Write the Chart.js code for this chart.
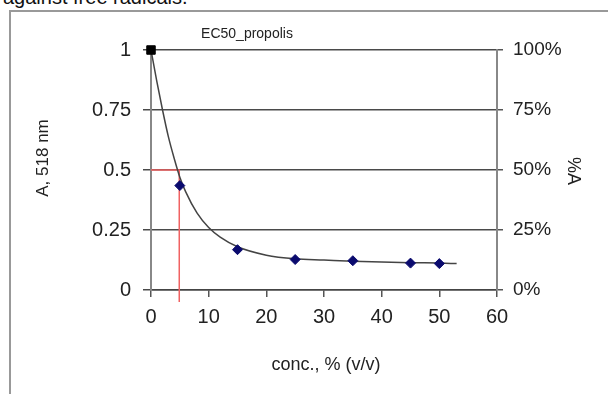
<!DOCTYPE html>
<html>
<head>
<meta charset="utf-8">
<script src="https://cdn.jsdelivr.net/npm/chart.js@4"></script>
<style>
  html, body { margin: 0; padding: 0; background: #fff; }
  body { width: 608px; height: 394px; position: relative; overflow: hidden; font-family: "Liberation Sans", Arial, sans-serif; }
  #caption { position: absolute; left: 3px; top: -13px; font-size: 20px; line-height: 20px; color: #111; white-space: nowrap; }
  #frame { position: absolute; left: 9px; top: 10px; width: 700px; height: 500px; border-left: 2px solid #999; border-top: 2px solid #999; }
  #wrap { position: absolute; left: 0; top: 0; width: 608px; height: 394px; }
</style>
</head>
<body>
<div id="caption">against free radicals.</div>
<div id="frame"></div>
<div id="wrap"><canvas id="chart" width="608" height="394"></canvas></div>
<script>
document.addEventListener("DOMContentLoaded", function () {

  // measured points
  const conc = [5, 15, 25, 35, 45, 50];
  const absorb = [0.435, 0.168, 0.127, 0.122, 0.112, 0.110];
  // blank (0 %)
  const blankConc = [0];
  const blankAbs = [1];
  // trend line
  const trendX = [0, 1, 2, 3, 4, 5, 6, 8, 10, 12, 15, 20, 25, 30, 35, 40, 45, 50, 53];
  const trendY = [1, 0.87, 0.75, 0.64, 0.55, 0.47, 0.41, 0.32, 0.26, 0.22, 0.18, 0.145, 0.13, 0.125, 0.12, 0.117, 0.114, 0.112, 0.11];
  // EC50 marker
  const ec50 = 4.9;
  const halfA = 0.5;
  const markerBottom = -0.05;

  const yTicks = ['0', '0.25', '0.5', '0.75', '1'];
  const pctTicks = ['0%', '25%', '50%', '75%', '100%'];

  const chartTitle = 'EC50_propolis';
  const xTitle = 'conc., % (v/v)';
  const yTitle = 'A, 518 nm';
  const y2Title = '%A';

  const font = '"Liberation Sans", Arial, sans-serif';
  const textColor = '#222';

  const pts = (xs, ys) => xs.map((x, i) => ({ x: x, y: ys[i] }));

  //texts placed like excel does
  const labelsPlugin = {
    id: 'labels',
    afterDraw(chart) {
      const ctx = chart.ctx;
      ctx.save();
      ctx.fillStyle = textColor;
      ctx.textAlign = 'center';
      ctx.textBaseline = 'middle';
      ctx.font = '14px ' + font;
      ctx.fillText(chartTitle, 247, 34);
      ctx.font = '18px ' + font;
      ctx.fillText(xTitle, 326, 365);
      ctx.save();
      ctx.translate(43, 158);
      ctx.rotate(-Math.PI / 2);
      ctx.font = '17px ' + font;
      ctx.fillText(yTitle, 0, 0);
      ctx.restore();
      ctx.save();
      ctx.translate(573, 171);
      ctx.rotate(Math.PI / 2);
      ctx.font = '18px ' + font;
      ctx.fillText(y2Title, 0, 0);
      ctx.restore();
      ctx.restore();
    }
  };

  new Chart(document.getElementById('chart'), {
    type: 'scatter',
    data: {
      datasets: [
        {
          label: 'trend',
          data: pts(trendX, trendY),
          showLine: true,
          borderColor: '#444',
          borderWidth: 1.5,
          pointRadius: 0,
          cubicInterpolationMode: 'monotone',
          order: 3
        },
        {
          label: 'EC50',
          data: [{ x: 0, y: halfA }, { x: ec50, y: halfA }, { x: ec50, y: markerBottom }],
          showLine: true,
          borderColor: '#f06262',
          borderWidth: 1.5,
          pointRadius: 0,
          clip: false,
          order: 4
        },
        {
          label: 'propolis',
          data: pts(conc, absorb),
          pointStyle: 'rectRot',
          pointRadius: 5,
          backgroundColor: '#0a0a6e',
          borderColor: '#0a0a6e',
          order: 1
        },
        {
          label: 'blank',
          data: pts(blankConc, blankAbs),
          pointStyle: 'rect',
          pointRadius: 6,
          backgroundColor: '#000',
          borderColor: '#000',
          clip: false,
          order: 0
        }
      ]
    },
    options: {
      responsive: false,
      animation: false,
      devicePixelRatio: 1,
      layout: { padding: { top: 50, left: 0, right: 0, bottom: 0 } },
      plugins: {
        legend: { display: false },
        tooltip: { enabled: false }
      },
      scales: {
        x: {
          type: 'linear',
          position: 'bottom',
          min: 0,
          max: 60,
          ticks: { stepSize: 10, color: textColor, font: { family: font, size: 20 }, padding: 8 },
          grid: { drawOnChartArea: false, color: '#555', lineWidth: 1.5, tickLength: 7 },
          border: { color: '#444', width: 1.5 },
          afterFit(s) { s.height = 104; }
        },
        y: {
          position: 'left',
          min: 0,
          max: 1,
          ticks: {
            stepSize: 0.25, color: textColor, font: { family: font, size: 20 }, padding: 12,
            callback: (v, i) => yTicks[i]
          },
          grid: { color: '#4a4a4a', lineWidth: 1.5, tickLength: 8 },
          border: { color: '#888', width: 2 },
          afterFit(s) { s.width = 151; }
        },
        y2: {
          position: 'right',
          min: 0,
          max: 1,
          ticks: {
            stepSize: 0.25, color: textColor, font: { family: font, size: 19 }, padding: 10,
            callback: (v, i) => pctTicks[i]
          },
          grid: { drawOnChartArea: false, color: '#555', lineWidth: 1.5, tickLength: 6 },
          border: { color: '#888', width: 2 },
          afterFit(s) { s.width = 111; }
        }
      }
    },
    plugins: [labelsPlugin]
  });
});
</script>
</body>
</html>
